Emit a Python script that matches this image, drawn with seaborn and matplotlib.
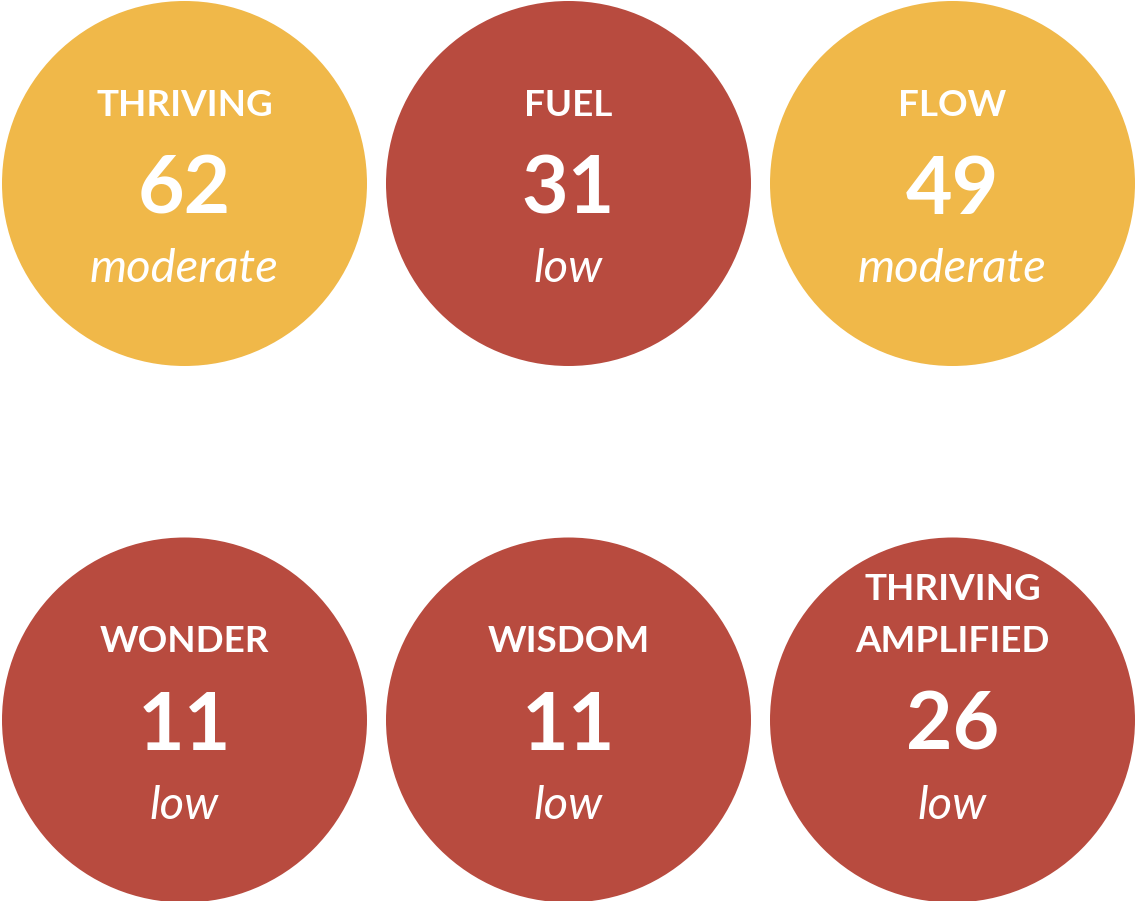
import matplotlib
matplotlib.use("Agg")
import matplotlib.pyplot as plt
from matplotlib.patches import Circle
import seaborn as sns

# Data
labels = ["THRIVING", "FUEL", "FLOW", "WONDER", "WISDOM", "THRIVING\nAMPLIFIED"]
scores = [62, 31, 49, 11, 11, 26]
levels = ["moderate", "low", "moderate", "low", "low", "low"]
level_colors = {"moderate": "#F0B849", "low": "#B84B3F"}

sns.set_theme(style="white")
plt.rcParams["font.family"] = ["Lato", "DejaVu Sans"]

W, H = 1135, 901
fig = plt.figure(figsize=(W / 100, H / 100), dpi=100)
ax = fig.add_axes([0, 0, 1, 1])
ax.set_xlim(0, W)
ax.set_ylim(H, 0)
ax.set_aspect("equal")
ax.axis("off")

col_x = [184.5, 568.5, 952.5]
row_y = [183.5, 720.0]
R = 182.5

for i, (lab, sc, lev) in enumerate(zip(labels, scores, levels)):
    cx = col_x[i % 3]
    cy = row_y[i // 3]
    ax.add_patch(Circle((cx, cy), R, color=level_colors[lev], lw=0))
    lines = lab.split("\n")
    offsets = [-68] if len(lines) == 1 else [-120, -68]
    for line, off in zip(lines, offsets):
        ax.text(cx, cy + off, line, ha="center", va="baseline", color="white",
                fontsize=26.5, fontweight="bold")
    ax.text(cx, cy + 30, str(sc), ha="center", va="baseline", color="white",
            fontsize=58, fontweight="bold")
    ax.text(cx, cy + 99, lev, ha="center", va="baseline", color="white",
            fontsize=34, style="italic")

fig.savefig("out.png", dpi=100)
